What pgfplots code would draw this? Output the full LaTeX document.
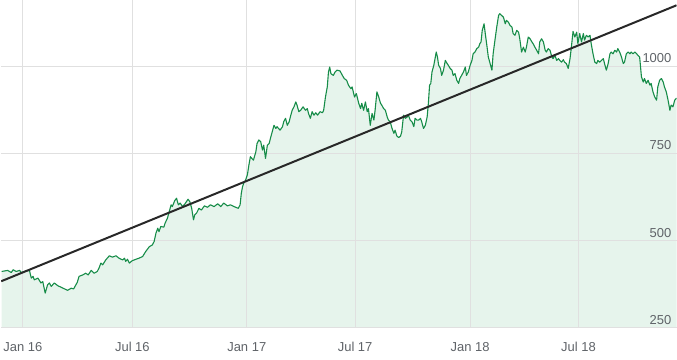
\documentclass[border=0pt]{standalone}
\usepackage{fontspec}
\setmainfont{Liberation Sans}
\usepackage{pgfplots}
\usepackage{pgfplotstable}
\pgfplotsset{compat=1.18}
\definecolor{lgreen}{RGB}{22,140,72}
\definecolor{lfill}{RGB}{230,244,236}
\definecolor{gridgray}{RGB}{224,224,224}
\definecolor{labgray}{RGB}{95,99,104}
\definecolor{trend}{RGB}{40,40,40}
\pgfplotstableread{
d v
-35 411
-25 414
-19 408
-16 416
-11 411
-5 414
-3 408
4 412
11 414
14 392
17 397
19 387
25 392
30 378
33 382
37 349
41 373
44 378
47 368
52 378
58 370
63 366
69 361
74 357
80 363
84 361
90 380
93 397
99 401
104 406
108 401
113 414
118 406
123 411
126 421
129 435
132 430
137 444
143 456
148 452
154 456
159 449
165 444
168 449
170 440
173 446
176 435
181 442
187 446
192 449
198 454
203 468
209 482
214 487
217 497
220 521
223 535
225 525
228 540
233 538
235 549
239 564
242 583
245 602
247 597
251 614
254 621
257 602
260 607
264 597
268 605
273 618
276 611
279 592
282 559
284 573
287 578
291 592
295 587
300 599
305 595
310 602
316 597
322 605
327 597
332 607
338 599
343 602
349 597
356 592
359 602
361 635
363 654
365 664
368 673
371 688
374 721
376 740
381 730
385 754
387 778
390 788
393 783
396 759
398 773
401 735
404 773
407 778
409 792
412 811
415 830
418 821
420 826
425 816
429 826
431 840
434 850
437 830
440 840
442 854
445 873
448 883
451 897
453 888
456 869
459 873
463 883
467 873
470 878
472 864
475 850
478 869
481 859
484 866
487 859
491 869
495 866
497 873
500 911
503 940
505 983
507 997
509 978
513 973
516 983
519 988
524 986
528 973
531 964
535 959
538 945
542 935
544 940
548 911
551 921
555 893
558 878
560 893
563 873
566 897
569 869
571 878
574 830
577 864
580 845
582 873
585 926
588 911
591 893
593 888
596 878
599 873
602 854
604 845
607 840
610 821
613 807
615 816
618 799
621 795
624 799
626 811
629 859
632 850
635 854
637 859
640 845
643 840
646 826
648 850
651 845
654 845
657 850
659 840
662 821
665 830
668 854
670 893
672 945
674 950
676 983
679 1002
681 1021
683 1040
685 1026
687 1002
690 993
692 973
695 988
698 1016
701 1007
703 1002
706 993
709 988
711 973
714 978
717 959
720 950
722 964
728 983
731 997
733 973
736 983
739 1002
742 1016
744 1035
747 1040
750 1050
753 1054
755 1064
757 1069
759 1102
762 1121
764 1093
767 1054
769 1026
772 1007
775 988
777 1035
780 1074
783 1112
786 1145
788 1150
791 1145
794 1140
797 1121
799 1131
802 1126
805 1116
808 1112
810 1093
813 1088
816 1102
819 1097
821 1078
824 1040
827 1054
830 1040
832 1054
835 1083
838 1078
841 1069
843 1064
846 1054
849 1045
852 1035
854 1069
857 1078
860 1069
863 1045
865 1040
868 1050
871 1045
874 1026
876 1021
879 1031
882 1016
885 1021
887 1016
890 1011
893 1018
895 1011
898 1007
901 993
904 1021
906 1050
909 1099
912 1083
915 1097
917 1064
920 1093
923 1069
926 1093
928 1074
931 1088
934 1083
937 1088
939 1064
942 1035
945 1011
948 1007
950 1016
953 1011
956 1016
959 1021
961 1007
964 988
967 1007
970 1035
972 1040
975 1035
978 1045
981 1040
983 1050
986 1040
989 1026
992 1007
994 1011
997 1035
1000 1040
1003 1035
1005 1040
1008 1035
1011 1040
1014 1035
1016 1031
1019 1026
1022 969
1025 954
1027 964
1030 950
1033 959
1036 945
1038 950
1041 926
1044 911
1047 902
1049 940
1052 959
1055 964
1058 954
1060 940
1063 926
1066 902
1069 873
1071 888
1074 883
1077 902
1080 908
}\pricedata
\begin{document}
\begin{tikzpicture}
\begin{axis}[
  set layers=standard,
  scale only axis,
  width=677pt, height=328pt,
  xmin=-35.6, xmax=1080, ymin=250, ymax=1187.9,
  axis line style={draw=none},
  major tick length=0pt,
  xtick={0,181,370,549,739,918},
  xticklabels={Jan 16,Jul 16,Jan 17,Jul 17,Jan 18,Jul 18},
  ytick={250,500,750,1000},
  yticklabels={250,500,750,1000},
  yticklabel pos=right,
  xmajorgrids, ymajorgrids,
  grid style={gridgray, line width=0.9pt},
  ticklabel style={font=\fontsize{13pt}{15pt}\selectfont, text=labgray},
  yticklabel style={anchor=south east, inner sep=3pt, xshift=-2pt},
  xticklabel style={anchor=north, yshift=-11.4pt},
  clip=true,
]
\addplot[on layer=axis background, draw=none, fill=lfill] table[x=d, y=v] {\pricedata} \closedcycle;
\addplot[lgreen, line width=1.1pt, line join=round] table[x=d, y=v] {\pricedata};
\addplot[trend, line width=2pt] coordinates {(-35.6,383) (1080,1174)};
\end{axis}
\path[use as bounding box] (current axis.south west) ++(0,-32pt) rectangle (current axis.north east);
\end{tikzpicture}
\end{document}
